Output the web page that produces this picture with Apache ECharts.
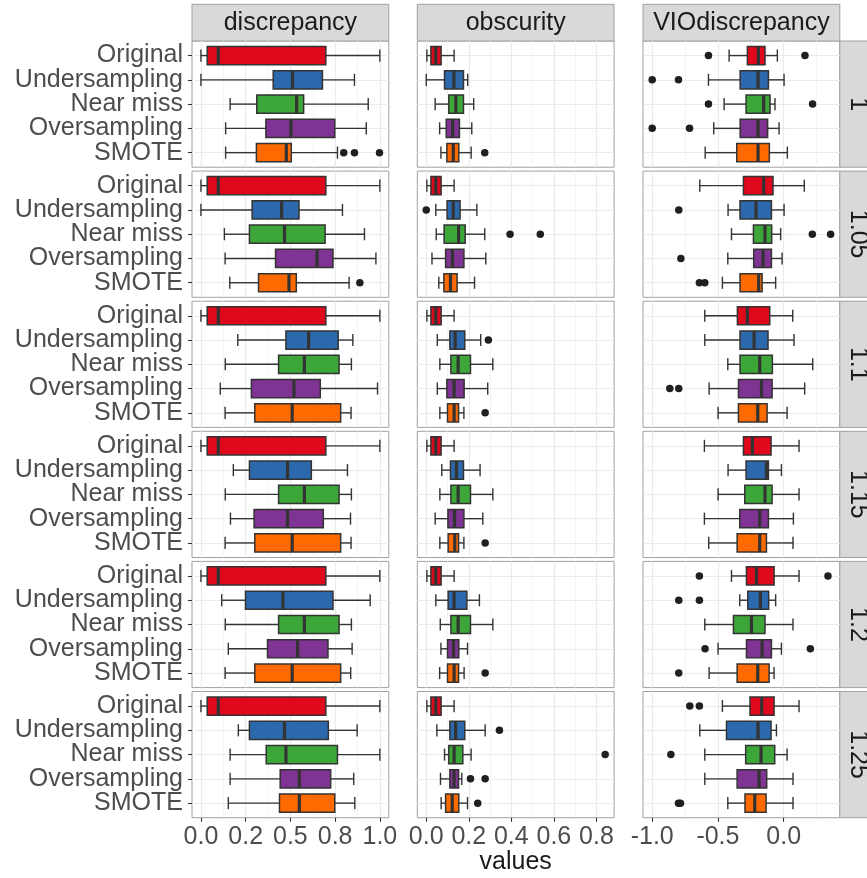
<!DOCTYPE html>
<html><head><meta charset="utf-8">
<script src="https://cdn.jsdelivr.net/npm/echarts@6/dist/echarts.min.js"></script>
<style>html,body{margin:0;padding:0;background:#fff}#c{width:867px;height:878px}</style>
</head><body><div id="c"></div>
<script>
const methods = ['Original','Undersampling','Near miss','Oversampling','SMOTE'];
const metrics = ['discrepancy','obscurity','VIOdiscrepancy'];
const ratios = ['1','1.05','1.1','1.15','1.2','1.25'];
const boxColors = ['#E0081C','#2C69AC','#3DA639','#7F3392','#FF6A00'];

// x-axis tick values and labels per metric column
const xMajorTicks = [[0,0.25,0.5,0.75,1],[0,0.2,0.4,0.6,0.8],[-1,-0.5,0]];
const xMajorLabels = [['0.0','0.2','0.5','0.8','1.0'],['0.0','0.2','0.4','0.6','0.8'],['-1.0','-0.5','0.0']];
const xMinorTicks = [[0.125,0.375,0.625,0.875],[0.1,0.3,0.5,0.7],[-0.75,-0.25,0.25]];
const xRanges = [[-0.05,1.05],[-0.042,0.883],[-1.07,0.427]];

// box stats [low whisker, Q1, median, Q3, high whisker]; rows = ratios, inner = methods
const discrepancyStats = [
 [[0,0.035,0.097,0.698,1.0],[0,0.404,0.512,0.679,0.858],[0.163,0.312,0.535,0.574,0.935],[0.138,0.363,0.503,0.748,0.924],[0.138,0.310,0.477,0.505,0.763]],
 [[0,0.035,0.097,0.698,1.0],[0,0.286,0.451,0.548,0.791],[0.131,0.271,0.467,0.694,0.914],[0.135,0.417,0.649,0.738,0.978],[0.161,0.322,0.492,0.533,0.828]],
 [[0,0.035,0.097,0.698,1.0],[0.206,0.475,0.602,0.767,0.849],[0.136,0.434,0.578,0.772,0.841],[0.108,0.282,0.520,0.667,0.987],[0.135,0.301,0.510,0.781,0.839]],
 [[0,0.035,0.097,0.698,1.0],[0.181,0.271,0.484,0.617,0.819],[0.136,0.434,0.578,0.772,0.841],[0.165,0.297,0.484,0.684,0.836],[0.135,0.301,0.510,0.781,0.839]],
 [[0,0.035,0.097,0.698,1.0],[0.116,0.249,0.458,0.738,0.946],[0.136,0.434,0.578,0.772,0.841],[0.153,0.372,0.540,0.710,0.845],[0.135,0.301,0.510,0.781,0.837]],
 [[0,0.035,0.097,0.698,1.0],[0.209,0.271,0.467,0.712,0.873],[0.163,0.365,0.475,0.763,1.0],[0.163,0.443,0.550,0.725,0.854],[0.153,0.439,0.550,0.748,0.860]]
];
const discrepancyOutliers = [
 [[],[],[],[],[0.798,0.858,0.998]],
 [[],[],[],[],[0.888]],
 [[],[],[],[],[]],
 [[],[],[],[],[]],
 [[],[],[],[],[]],
 [[],[],[],[],[]]
];
const obscurityStats = [
 [[0.003,0.022,0.045,0.070,0.131],[0.0,0.086,0.130,0.175,0.195],[0.042,0.106,0.139,0.175,0.223],[0.063,0.094,0.124,0.156,0.214],[0.069,0.097,0.127,0.153,0.211]],
 [[0.003,0.022,0.045,0.070,0.131],[0.045,0.098,0.127,0.159,0.238],[0.047,0.084,0.152,0.183,0.275],[0.027,0.091,0.123,0.177,0.280],[0.059,0.083,0.114,0.145,0.227]],
 [[0.003,0.022,0.045,0.070,0.131],[0.052,0.111,0.136,0.181,0.256],[0.064,0.116,0.150,0.208,0.313],[0.052,0.097,0.131,0.178,0.289],[0.064,0.100,0.131,0.152,0.177]],
 [[0.003,0.022,0.045,0.070,0.131],[0.073,0.114,0.142,0.175,0.253],[0.064,0.116,0.150,0.208,0.313],[0.042,0.102,0.133,0.177,0.266],[0.064,0.103,0.134,0.152,0.177]],
 [[0.003,0.022,0.045,0.070,0.131],[0.045,0.103,0.131,0.191,0.250],[0.066,0.116,0.150,0.208,0.313],[0.069,0.100,0.128,0.153,0.194],[0.063,0.100,0.131,0.152,0.178]],
 [[0.003,0.022,0.045,0.070,0.131],[0.050,0.111,0.138,0.181,0.277],[0.086,0.106,0.131,0.172,0.211],[0.067,0.111,0.131,0.152,0.167],[0.070,0.091,0.122,0.153,0.194]]
];
const obscurityOutliers = [
 [[],[],[],[],[0.275]],
 [[],[0.0],[0.394,0.536],[],[]],
 [[],[0.292],[],[],[0.277]],
 [[],[],[],[],[0.277]],
 [[],[],[],[],[0.277]],
 [[],[0.344],[0.841],[0.208,0.277],[0.242]]
];
const vioStats = [
 [[-0.415,-0.276,-0.192,-0.142,-0.048],[-0.572,-0.331,-0.195,-0.116,0.003],[-0.453,-0.286,-0.152,-0.104,-0.066],[-0.532,-0.331,-0.195,-0.122,-0.035],[-0.597,-0.357,-0.195,-0.109,0.028]],
 [[-0.638,-0.306,-0.152,-0.081,0.157],[-0.423,-0.332,-0.210,-0.093,0.003],[-0.397,-0.230,-0.142,-0.091,-0.023],[-0.425,-0.228,-0.157,-0.093,-0.012],[-0.466,-0.332,-0.190,-0.164,-0.061]],
 [[-0.600,-0.352,-0.276,-0.106,0.069],[-0.600,-0.332,-0.225,-0.119,0.079],[-0.425,-0.332,-0.182,-0.086,0.221],[-0.567,-0.344,-0.169,-0.088,0.160],[-0.499,-0.344,-0.197,-0.126,0.026]],
 [[-0.603,-0.306,-0.238,-0.096,0.117],[-0.423,-0.286,-0.131,-0.116,-0.017],[-0.499,-0.296,-0.142,-0.088,0.117],[-0.603,-0.334,-0.182,-0.116,0.074],[-0.570,-0.354,-0.182,-0.131,0.071]],
 [[-0.397,-0.283,-0.207,-0.073,0.117],[-0.334,-0.273,-0.177,-0.114,-0.061],[-0.600,-0.382,-0.245,-0.142,0.071],[-0.499,-0.283,-0.164,-0.093,-0.017],[-0.567,-0.354,-0.197,-0.111,-0.073]],
 [[-0.466,-0.256,-0.167,-0.073,0.117],[-0.638,-0.435,-0.195,-0.096,-0.055],[-0.600,-0.289,-0.172,-0.068,0.026],[-0.600,-0.354,-0.187,-0.129,0.071],[-0.425,-0.294,-0.220,-0.134,0.071]]
];
const vioOutliers = [
 [[-0.572,0.162],[-1.0,-0.800],[-0.572,0.220],[-1.0,-0.716],[]],
 [[],[-0.798],[0.218,0.357],[-0.782],[-0.641,-0.600]],
 [[],[],[],[-0.866,-0.798],[]],
 [[],[],[],[],[]],
 [[-0.641,0.337],[-0.798,-0.641],[],[-0.598,0.203],[-0.798]],
 [[-0.714,-0.641],[],[-0.858],[],[-0.800,-0.785]]
];

const allStats = [discrepancyStats, obscurityStats, vioStats];
const allOutliers = [discrepancyOutliers, obscurityOutliers, vioOutliers];

// layout
const FONT = 'Liberation Sans';
const FS = 25;
const colLeft = [192, 417.3, 643];
const colWidth = 196.8;
const rowTop0 = 41, rowStep = 130.1, rowHeight = 126.2;
const stripSize = 36.7;
const borderCol = '#A0A0A0';

function renderBox(params, api) {
  const ci = api.value(0);
  const p = [1,2,3,4,5].map(k => api.coord([api.value(k), ci]));
  const unit = api.size([0, 1])[1];
  const bh = unit * 0.375, ch = unit * 0.25;
  const y = p[0][1];
  const ls = {stroke: '#333', lineWidth: 1.4};
  return {type: 'group', children: [
    {type: 'line', shape: {x1: p[0][0], y1: y, x2: p[1][0], y2: y}, style: ls},
    {type: 'line', shape: {x1: p[3][0], y1: y, x2: p[4][0], y2: y}, style: ls},
    {type: 'line', shape: {x1: p[0][0], y1: y - ch, x2: p[0][0], y2: y + ch}, style: ls},
    {type: 'line', shape: {x1: p[4][0], y1: y - ch, x2: p[4][0], y2: y + ch}, style: ls},
    {type: 'rect', shape: {x: p[1][0], y: y - bh, width: p[3][0] - p[1][0], height: 2 * bh},
      style: {fill: boxColors[ci], stroke: '#333', lineWidth: 1.5}},
    {type: 'line', shape: {x1: p[2][0], y1: y - bh, x2: p[2][0], y2: y + bh}, style: {stroke: '#333', lineWidth: 3.2}}
  ]};
}

const grids = [], xAxes = [], yAxes = [], series = [], graphics = [];
const catIdx = methods.map((m, i) => i);
const catEven = catIdx.filter(i => i % 2 === 0);
const catOdd = catIdx.filter(i => i % 2 === 1);
const yLabelBase = {margin: 9, fontSize: FS, fontFamily: FONT, color: '#4D4D4D',
  showMinLabel: true, showMaxLabel: true, hideOverlap: false, formatter: v => methods[Math.round(v)] || ''};

for (let r = 0; r < ratios.length; r++) {
  for (let c = 0; c < metrics.length; c++) {
    const g = grids.length;
    const top = rowTop0 + r * rowStep;
    grids.push({left: colLeft[c], top: top, width: colWidth, height: rowHeight, containLabel: false,
      show: true, backgroundColor: '#fff', borderColor: borderCol, borderWidth: 1});
    const labels = xMajorLabels[c], ticks = xMajorTicks[c];
    const isBottom = r === ratios.length - 1;
    const xi = xAxes.length;
    xAxes.push({type: 'value', gridIndex: g, min: xRanges[c][0], max: xRanges[c][1], position: 'bottom',
      axisLine: {show: false, onZero: false},
      axisTick: {show: isBottom, length: 4, customValues: ticks, lineStyle: {color: '#333', width: 1.1}},
      axisLabel: {show: isBottom, customValues: ticks, margin: 7, fontSize: FS, fontFamily: FONT, color: '#4D4D4D',
        showMinLabel: true, showMaxLabel: true, hideOverlap: false,
        formatter: v => { const i = ticks.findIndex(t => Math.abs(t - v) < 1e-9); return i >= 0 ? labels[i] : ''; }},
      splitLine: {show: true, lineStyle: {color: '#EBEBEB', width: 1.2}}
    });
    xAxes.push({type: 'value', gridIndex: g, min: xRanges[c][0], max: xRanges[c][1], position: 'top',
      axisLine: {show: false, onZero: false},
      axisTick: {show: false, customValues: xMinorTicks[c]},
      axisLabel: {show: false, customValues: xMinorTicks[c]},
      splitLine: {show: true, lineStyle: {color: '#F3F3F3', width: 0.8}}
    });
    const yi = yAxes.length;
    yAxes.push({type: 'value', gridIndex: g, min: -0.6, max: 4.6, inverse: true, position: 'left',
      axisLine: {show: false, onZero: false},
      axisTick: {show: c === 0, length: 4, customValues: catIdx, lineStyle: {color: '#333', width: 1.1}},
      axisLabel: Object.assign({show: c === 0, customValues: catEven}, yLabelBase),
      splitLine: {show: true, lineStyle: {color: '#EBEBEB', width: 1.2}}
    });
    if (c === 0) {
      // second label layer so that neighbouring category labels are not thinned out
      yAxes.push({type: 'value', gridIndex: g, min: -0.6, max: 4.6, inverse: true, position: 'left',
        axisLine: {show: false, onZero: false},
        axisTick: {show: false, customValues: catOdd},
        axisLabel: Object.assign({show: true, customValues: catOdd}, yLabelBase),
        splitLine: {show: false}
      });
    }
    const stats = allStats[c][r];
    series.push({type: 'custom', xAxisIndex: xi, yAxisIndex: yi, renderItem: renderBox,
      encode: {x: [1,2,3,4,5], y: 0}, silent: true, z: 3,
      data: stats.map((s, i) => [i].concat(s))});
    const outs = [];
    allOutliers[c][r].forEach((arr, i) => arr.forEach(v => outs.push([v, i])));
    series.push({type: 'scatter', xAxisIndex: xi, yAxisIndex: yi, symbolSize: 7.5, z: 4, silent: true,
      itemStyle: {color: '#1F1F1F', opacity: 1}, data: outs});
  }
}

// strips
const textStyle = t => ({text: t, fill: '#1A1A1A', font: FS + 'px "' + FONT + '"', align: 'center', verticalAlign: 'middle',
  textAlign: 'center', textVerticalAlign: 'middle'});
metrics.forEach((m, c) => {
  graphics.push({type: 'rect', shape: {x: colLeft[c], y: rowTop0 - stripSize, width: colWidth, height: stripSize},
    style: {fill: '#D9D9D9', stroke: borderCol, lineWidth: 1}});
  graphics.push({type: 'text', x: colLeft[c] + colWidth / 2, y: rowTop0 - stripSize / 2, style: textStyle(m)});
});
const stripX = colLeft[2] + colWidth;
ratios.forEach((rt, r) => {
  const top = rowTop0 + r * rowStep;
  graphics.push({type: 'rect', shape: {x: stripX, y: top, width: stripSize, height: rowHeight},
    style: {fill: '#D9D9D9', stroke: borderCol, lineWidth: 1}});
  graphics.push({type: 'text', x: stripX + stripSize / 2, y: top + rowHeight / 2, rotation: -Math.PI / 2,
    style: textStyle(rt)});
});
graphics.push({type: 'text', x: colLeft[1] + colWidth / 2, y: rowTop0 + 5 * rowStep + rowHeight + 44,
  style: textStyle('values')});

const chart = echarts.init(document.getElementById('c'), null, {renderer: 'canvas'});
chart.setOption({
  animation: false,
  backgroundColor: '#fff',
  grid: grids, xAxis: xAxes, yAxis: yAxes, series: series,
  graphic: graphics
});
</script></body></html>
